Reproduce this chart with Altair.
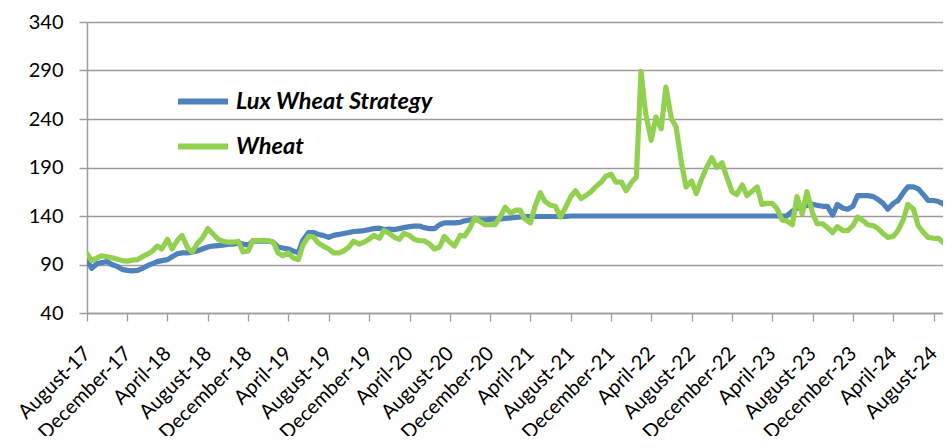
import altair as alt
import pandas as pd

# semi-monthly observation dates (1st and 15th of each month), Aug 2017 - Sep 2024
dates = pd.date_range("2017-08-01", periods=172, freq="SMS")

lux_wheat_strategy = [
    95, 86, 91, 92, 93, 90, 88, 85, 84, 83.5,
    84, 86, 89, 91, 93, 94, 95, 98, 101, 102,
    102, 103, 104, 106, 108, 109, 109.5, 110, 111, 111,
    112, 111, 110, 114, 114, 114, 114, 113, 108, 107,
    106, 104, 102, 115, 123, 123, 121, 120, 118, 120,
    121, 122, 123, 124, 124.5, 125, 126, 127, 127.5, 126,
    126.5, 126, 127, 128, 129, 129.5, 129.6, 128, 127, 127,
    131, 133, 133, 133, 133.5, 135, 136, 136, 136, 136,
    136.5, 137, 137, 137.5, 138, 138.5, 139, 139.5, 139.5, 139.5,
    139.5, 139.5, 139.5, 139.5, 139.5, 139.5, 140, 140, 140, 140,
    140, 140, 140, 140, 140, 140, 140, 140, 140, 140,
    140, 140, 140, 140, 140, 140, 140, 140, 140, 140,
    140, 140, 140, 140, 140, 140, 140, 140, 140, 140,
    140, 140, 140, 140, 140, 140, 140, 140, 140, 140,
    145, 148, 149, 151, 152, 151, 150, 150, 141, 152,
    148, 147, 150, 161, 161, 161, 160, 157, 153, 147,
    153, 156, 164, 170, 170, 168, 162, 156, 156, 155,
    152, 168,
]

wheat = [
    101, 94, 97, 99, 98, 97, 95.5, 94, 93.5, 94.5,
    95, 98, 101, 104, 109, 106, 116, 106, 115, 120,
    107, 103, 112, 117, 127, 122, 116, 114, 113, 113,
    114, 103, 104, 115, 114.5, 115, 114.5, 113, 102, 99,
    102, 97, 95, 110, 119, 118.5, 112, 109, 106, 102,
    102, 104, 108, 114, 111, 113, 116, 120, 117, 125,
    122, 118, 116, 122, 120, 116, 114.5, 114.5, 111, 106,
    108, 119, 113, 109, 120, 119.6, 128, 138, 134, 131,
    131, 131, 140, 149, 143, 146, 146, 137, 133, 150,
    164, 155, 151, 150, 139, 148, 160, 166, 158, 161,
    165, 170, 175, 181, 183, 175, 175, 166, 175, 180,
    289, 246, 218, 242, 230, 273, 240, 232, 195, 170,
    176, 163, 179, 190, 200, 190, 195, 180, 165, 162,
    172, 161, 166, 170, 152, 153, 153, 148, 136, 135,
    131, 160, 142, 165, 143, 132, 132, 128, 123, 129,
    125, 125, 130, 139, 135, 131, 130, 127, 122, 118,
    119, 125, 136, 152, 147, 130, 123, 118, 117, 117,
    112, 128,
]

series_names = ["Lux Wheat Strategy", "Wheat"]
series_colors = ["#4F81BD", "#92D050"]
y_ticks = [40, 90, 140, 190, 240, 290, 340]
x_tick_dates = pd.date_range("2017-08-01", "2024-08-01", freq="4MS")

df = pd.concat([
    pd.DataFrame({"date": dates.strftime("%Y-%m-%d"), "value": lux_wheat_strategy, "series": series_names[0]}),
    pd.DataFrame({"date": dates.strftime("%Y-%m-%d"), "value": wheat, "series": series_names[1]}),
], ignore_index=True)

FONT = "Lato"
GRID = "#9C9C9C"

x_enc = alt.X(
    "date:T",
    scale=alt.Scale(domain=["2017-08-01", "2024-08-29"]),
    axis=alt.Axis(
        title=None,
        values=[d.strftime("%Y-%m-%d") for d in x_tick_dates],
        format="%B-%y",
        labelAngle=-45,
        labelAlign="right",
        labelBaseline="middle",
        labelFontSize=20,
        labelFont=FONT,
        labelColor="#000000",
        labelPadding=29,
        labelOverlap=False,
        labelBound=False,
        labelFlush=False,
        tickSize=8,
        tickColor=GRID,
        tickWidth=1.3,
        domainColor=GRID,
        domainWidth=1.5,
        grid=False,
    ),
)
y_enc = alt.Y(
    "value:Q",
    scale=alt.Scale(domain=[40, 340], nice=False, zero=False),
    axis=alt.Axis(
        title=None,
        values=y_ticks,
        labelFontSize=20,
        labelFont=FONT,
        labelColor="#000000",
        labelPadding=16,
        tickSize=8,
        tickColor=GRID,
        tickWidth=1.5,
        domainColor=GRID,
        domainWidth=1.5,
        grid=True,
        gridColor=GRID,
        gridWidth=1.5,
    ),
)
color_enc = alt.Color(
    "series:N",
    scale=alt.Scale(domain=series_names, range=series_colors),
    legend=alt.Legend(
        title=None,
        orient="none",
        legendX=88,
        legendY=57,
        symbolType="stroke",
        symbolSize=2500,
        symbolStrokeWidth=6,
        clipHeight=45,
        rowPadding=0,
        padding=0,
        labelOffset=5,
        labelFont=FONT,
        labelFontSize=23.5,
        labelFontStyle="italic",
        labelFontWeight="bold",
        labelColor="#000000",
        labelLimit=400,
    ),
)

base = alt.Chart(df).mark_line(
    strokeWidth=5.2, strokeJoin="round", strokeCap="round", clip=True
).encode(x=x_enc, y=y_enc, color=color_enc)
lux_line = base.transform_filter(alt.datum.series == series_names[0])
wheat_line = base.transform_filter(alt.datum.series == series_names[1])

chart = alt.layer(lux_line, wheat_line).properties(
    width=856,
    height=291,
    autosize=alt.AutoSizeParams(type="none"),
    padding={"left": 79, "top": 14, "right": 0, "bottom": 123},
).configure_view(stroke=None).configure(background="white")

chart.save("out.html", embed_options={"renderer": "svg", "actions": False})
